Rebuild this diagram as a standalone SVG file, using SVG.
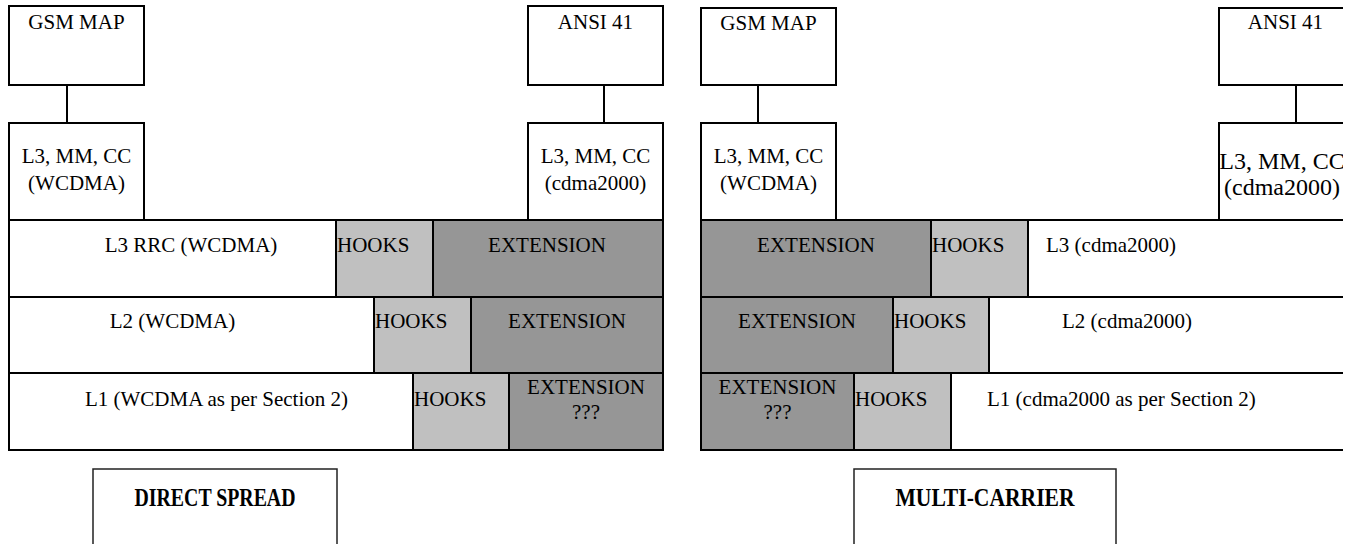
<svg xmlns="http://www.w3.org/2000/svg" width="1353" height="544" viewBox="0 0 1353 544" font-family="Liberation Serif, Times New Roman, DejaVu Serif, serif">
<style>
.b{fill:#fff;stroke:#000;stroke-width:2}
.h{fill:#c0c0c0;stroke:#000;stroke-width:2}
.e{fill:#969696;stroke:#000;stroke-width:2}
.t{fill:#fff;stroke:#222;stroke-width:1.5}
.c{stroke:#000;stroke-width:2;fill:none}
text{font-family:'Liberation Serif','Times New Roman','DejaVu Serif',serif;font-size:21px;fill:#000}
.m{text-anchor:middle}
.big{font-size:26px;font-weight:bold;text-anchor:middle}
</style>
<defs>
<clipPath id="clipR"><rect x="680" y="0" width="663" height="544"/></clipPath>
</defs>
<rect x="0" y="0" width="1353" height="544" fill="#fff"/>

<g id="connectors">
<line class="c" x1="67" y1="85" x2="67" y2="123"/>
<line class="c" x1="604" y1="85" x2="604" y2="123"/>
<line class="c" x1="758" y1="85" x2="758" y2="123"/>
<line class="c" x1="1296" y1="85" x2="1296" y2="123"/>
</g>

<g id="ds-gsm-map"><rect class="b" x="9" y="6" width="135" height="79"/><text class="m" x="76.5" y="29">GSM MAP</text></g>
<g id="ds-ansi41"><rect class="b" x="528" y="6" width="135" height="79"/><text class="m" x="595.5" y="29">ANSI 41</text></g>
<g id="ds-l3mmcc-wcdma"><rect class="b" x="9" y="123" width="135" height="97"/><text class="m" x="76.5" y="163">L3, MM, CC</text><text class="m" x="76.5" y="190">(WCDMA)</text></g>
<g id="ds-l3mmcc-cdma"><rect class="b" x="528" y="123" width="135" height="97"/><text class="m" x="595.5" y="163">L3, MM, CC</text><text class="m" x="595.5" y="190">(cdma2000)</text></g>

<g id="ds-l3rrc"><rect class="b" x="9" y="220" width="327" height="77"/><text class="m" x="191" y="252">L3 RRC (WCDMA)</text></g>
<g id="ds-l3-hooks"><rect class="h" x="336" y="220" width="97" height="77"/><text x="337" y="252">HOOKS</text></g>
<g id="ds-l3-ext"><rect class="e" x="433" y="220" width="230" height="77"/><text class="m" x="547" y="252">EXTENSION</text></g>

<g id="ds-l2"><rect class="b" x="9" y="297" width="365" height="76"/><text class="m" x="172.5" y="328">L2 (WCDMA)</text></g>
<g id="ds-l2-hooks"><rect class="h" x="374" y="297" width="97" height="76"/><text x="375" y="328">HOOKS</text></g>
<g id="ds-l2-ext"><rect class="e" x="471" y="297" width="192" height="76"/><text class="m" x="567" y="328">EXTENSION</text></g>

<g id="ds-l1"><rect class="b" x="9" y="373" width="404" height="77"/><text class="m" x="216.5" y="406">L1 (WCDMA as per Section 2)</text></g>
<g id="ds-l1-hooks"><rect class="h" x="413" y="373" width="96" height="77"/><text x="414" y="406">HOOKS</text></g>
<g id="ds-l1-ext"><rect class="e" x="509" y="373" width="154" height="77"/><text class="m" x="586" y="394">EXTENSION</text><text class="m" x="586" y="419">???</text></g>

<g id="ds-title"><rect class="t" x="93" y="469" width="244" height="100"/><text class="big" x="215" y="506" textLength="161" lengthAdjust="spacingAndGlyphs">DIRECT SPREAD</text></g>

<g clip-path="url(#clipR)">
<g id="mc-gsm-map"><rect class="b" x="701" y="8" width="135" height="77"/><text class="m" x="768.5" y="30">GSM MAP</text></g>
<g id="mc-ansi41"><rect class="b" x="1219" y="8" width="135" height="77"/><text class="m" x="1285.5" y="29">ANSI 41</text></g>
<g id="mc-l3mmcc-wcdma"><rect class="b" x="701" y="123" width="135" height="97"/><text class="m" x="768.5" y="163">L3, MM, CC</text><text class="m" x="768.5" y="190">(WCDMA)</text></g>
<g id="mc-l3mmcc-cdma"><rect class="b" x="1219" y="123" width="135" height="97"/><text class="m" x="1282" y="169" style="font-size:24px">L3, MM, CC</text><text class="m" x="1282" y="195" style="font-size:24px">(cdma2000)</text></g>

<g id="mc-l3-ext"><rect class="e" x="701" y="220" width="230" height="77"/><text class="m" x="816" y="252">EXTENSION</text></g>
<g id="mc-l3-hooks"><rect class="h" x="931" y="220" width="97" height="77"/><text x="932" y="252">HOOKS</text></g>
<g id="mc-l3"><rect class="b" x="1028" y="220" width="330" height="77"/><text x="1046" y="252">L3 (cdma2000)</text></g>

<g id="mc-l2-ext"><rect class="e" x="701" y="297" width="192" height="76"/><text class="m" x="797" y="328">EXTENSION</text></g>
<g id="mc-l2-hooks"><rect class="h" x="893" y="297" width="96" height="76"/><text x="894" y="328">HOOKS</text></g>
<g id="mc-l2"><rect class="b" x="989" y="297" width="369" height="76"/><text x="1062" y="328">L2 (cdma2000)</text></g>

<g id="mc-l1-ext"><rect class="e" x="701" y="373" width="153" height="77"/><text class="m" x="777.5" y="394">EXTENSION</text><text class="m" x="777.5" y="419">???</text></g>
<g id="mc-l1-hooks"><rect class="h" x="854" y="373" width="97" height="77"/><text x="855" y="406">HOOKS</text></g>
<g id="mc-l1"><rect class="b" x="951" y="373" width="407" height="77"/><text x="987" y="406">L1 (cdma2000 as per Section 2)</text></g>
</g>

<g id="mc-title"><rect class="t" x="854" y="469" width="262" height="100"/><text class="big" x="985" y="506" textLength="179" lengthAdjust="spacingAndGlyphs">MULTI-CARRIER</text></g>
</svg>
